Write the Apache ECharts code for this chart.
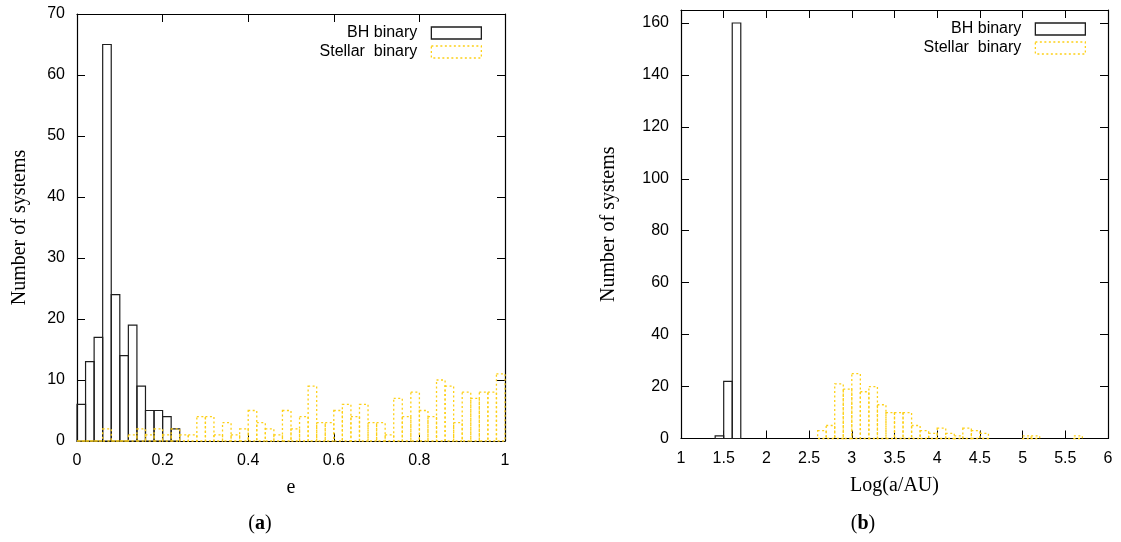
<!DOCTYPE html>
<html>
<head>
<meta charset="utf-8">
<script src="https://cdn.jsdelivr.net/npm/echarts@6/dist/echarts.min.js"></script>
<style>
  html, body { margin: 0; padding: 0; background: #fff; }
  #chart { width: 1121px; height: 542px; }
</style>
</head>
<body>
<div id="chart"></div>
<script>
// (a) eccentricity histogram, bin width 0.02
const eBinWidth = 0.02;
const eBhEdges = [0, 0.02, 0.04, 0.06, 0.08, 0.1, 0.12, 0.14, 0.16, 0.18, 0.2, 0.22];
const eBhCounts = [6, 13, 17, 65, 24, 14, 19, 9, 5, 5, 4, 2];
const eStEdges = [
  0, 0.02, 0.04, 0.06, 0.08, 0.1, 0.12, 0.14, 0.16, 0.18,
  0.2, 0.22, 0.24, 0.26, 0.28, 0.3, 0.32, 0.34, 0.36, 0.38,
  0.4, 0.42, 0.44, 0.46, 0.48, 0.5, 0.52, 0.54, 0.56, 0.58,
  0.6, 0.62, 0.64, 0.66, 0.68, 0.7, 0.72, 0.74, 0.76, 0.78,
  0.8, 0.82, 0.84, 0.86, 0.88, 0.9, 0.92, 0.94, 0.96, 0.98
];
const eStCounts = [
  0, 0, 0, 2, 0, 0, 1, 2, 1, 2,
  1, 2, 1, 1, 4, 4, 1, 3, 1, 2,
  5, 3, 2, 1, 5, 2, 4, 9, 3, 3,
  5, 6, 4, 6, 3, 3, 1, 7, 4, 8,
  5, 4, 10, 9, 3, 8, 7, 8, 8, 11
];

// (b) semi-major axis histogram, bin width 0.1
const aBinWidth = 0.1;
const aBhEdges = [1.4, 1.5, 1.6];
const aBhCounts = [1, 22, 160];
const aStEdges = [2.6, 2.7, 2.8, 2.9, 3.0, 3.1, 3.2, 3.3, 3.4, 3.5, 3.6, 3.7,
  3.8, 3.9, 4.0, 4.1, 4.2, 4.3, 4.4, 4.5, 5.0, 5.1, 5.6];
const aStCounts = [3, 5, 21, 19, 25, 18, 20, 13, 10, 10, 10, 5,
  3, 2, 4, 2, 1, 4, 3, 2, 1, 1, 1];

const BH_NAME = 'BH binary';
const ST_NAME = 'Stellar  binary';
const sans = 'Liberation Sans';
const serif = 'Liberation Serif';
const bhColor = '#1e1e1e';
const stColor = '#fdd017';

function pairs(edges, counts) {
  return edges.map((x, i) => [x, counts[i]]);
}

// draw one histogram box from bin start to bin start + width
function boxes(width, style) {
  return function (params, api) {
    const x0 = api.value(0);
    const h = api.value(1);
    const p0 = api.coord([x0, h]);
    const p1 = api.coord([x0 + width, 0]);
    return {
      type: 'rect',
      shape: { x: p0[0], y: p0[1], width: p1[0] - p0[0], height: p1[1] - p0[1] },
      style: style
    };
  };
}

const bhStyle = { fill: 'none', stroke: bhColor, lineWidth: 1.2 };
const stStyle = { fill: 'none', stroke: stColor, lineWidth: 1.3, lineDash: [2, 2.5] };

function xAx(grid, min, max, step, pos, name) {
  const ax = {
    type: 'value', gridIndex: grid, min: min, max: max, interval: step, position: pos,
    axisLine: { show: true, onZero: false, lineStyle: { color: '#000', width: 1.2 } },
    axisTick: { show: true, inside: true, length: 8, lineStyle: { color: '#000', width: 1 } },
    axisLabel: { show: pos === 'bottom', fontFamily: sans, fontSize: 16, color: '#000', margin: 12 },
    splitLine: { show: false }
  };
  if (name) {
    ax.name = name;
    ax.nameLocation = 'middle';
    ax.nameGap = 37;
    ax.nameTextStyle = { fontFamily: serif, fontSize: 20, color: '#000' };
  }
  return ax;
}

function yAx(grid, max, step, pos, gap) {
  const ax = {
    type: 'value', gridIndex: grid, min: 0, max: max, interval: step, position: pos,
    axisLine: { show: true, onZero: false, lineStyle: { color: '#000', width: 1.2 } },
    axisTick: { show: true, inside: true, length: 8, lineStyle: { color: '#000', width: 1 } },
    axisLabel: { show: pos === 'left', showMaxLabel: max % step === 0, fontFamily: sans, fontSize: 16, color: '#000', margin: 12 },
    splitLine: { show: false }
  };
  if (gap) {
    ax.name = 'Number of systems';
    ax.nameLocation = 'middle';
    ax.nameRotate = 90;
    ax.nameGap = gap;
    ax.nameTextStyle = { fontFamily: serif, fontSize: 20, color: '#000' };
  }
  return ax;
}

function legendItem(name, right, top, dotted) {
  return {
    data: [{
      name: name,
      icon: 'rect',
      itemStyle: {
        color: 'rgba(0,0,0,0)',
        borderColor: dotted ? stColor : bhColor,
        borderWidth: 1.3,
        borderType: dotted ? [2, 2.5] : 'solid'
      }
    }],
    right: right, top: top, padding: 0,
    align: 'right', selectedMode: false,
    itemWidth: 50, itemHeight: 12,
    textStyle: { fontFamily: sans, fontSize: 16, color: '#000', lineHeight: 12, padding: [0, 9, 0, 0] }
  };
}

const chart = echarts.init(document.getElementById('chart'));
chart.setOption({
  backgroundColor: '#fff',
  animation: false,
  grid: [
    { left: 77, right: 616, top: 14, bottom: 101 },
    { left: 681, right: 13, top: 10, bottom: 103.5 }
  ],
  xAxis: [
    xAx(0, 0, 1, 0.2, 'bottom', 'e'),
    xAx(0, 0, 1, 0.2, 'top'),
    xAx(1, 1, 6, 0.5, 'bottom', 'Log(a/AU)'),
    xAx(1, 1, 6, 0.5, 'top')
  ],
  yAxis: [
    yAx(0, 70, 10, 'left', 47),
    yAx(0, 70, 10, 'right'),
    yAx(1, 165, 20, 'left', 62),
    yAx(1, 165, 20, 'right')
  ],
  legend: [
    legendItem(BH_NAME, 639, 25, false),
    legendItem(ST_NAME, 639, 44, true),
    legendItem(BH_NAME, 35, 21, false),
    legendItem(ST_NAME, 35, 40, true)
  ],
  series: [
    {
      type: 'custom', name: BH_NAME, xAxisIndex: 0, yAxisIndex: 0,
      itemStyle: { color: 'rgba(0,0,0,0)', borderColor: bhColor },
      data: pairs(eBhEdges, eBhCounts), encode: { x: 0, y: 1 },
      renderItem: boxes(eBinWidth, bhStyle)
    },
    {
      type: 'custom', name: ST_NAME, xAxisIndex: 0, yAxisIndex: 0,
      itemStyle: { color: 'rgba(0,0,0,0)', borderColor: stColor },
      data: pairs(eStEdges, eStCounts), encode: { x: 0, y: 1 },
      renderItem: boxes(eBinWidth, stStyle)
    },
    {
      type: 'custom', name: BH_NAME, xAxisIndex: 2, yAxisIndex: 2,
      itemStyle: { color: 'rgba(0,0,0,0)', borderColor: bhColor },
      data: pairs(aBhEdges, aBhCounts), encode: { x: 0, y: 1 },
      renderItem: boxes(aBinWidth, bhStyle)
    },
    {
      type: 'custom', name: ST_NAME, xAxisIndex: 2, yAxisIndex: 2,
      itemStyle: { color: 'rgba(0,0,0,0)', borderColor: stColor },
      data: pairs(aStEdges, aStCounts), encode: { x: 0, y: 1 },
      renderItem: boxes(aBinWidth, stStyle)
    }
  ],
  graphic: [
    {
      type: 'text', x: 260, y: 524,
      style: {
        text: '{p|(}{b|a}{p|)}', align: 'center', verticalAlign: 'middle',
        rich: {
          p: { fontFamily: serif, fontSize: 20, fill: '#000' },
          b: { fontFamily: serif, fontSize: 20, fontWeight: 'bold', fill: '#000' }
        }
      }
    },
    {
      type: 'text', x: 863, y: 524,
      style: {
        text: '{p|(}{b|b}{p|)}', align: 'center', verticalAlign: 'middle',
        rich: {
          p: { fontFamily: serif, fontSize: 20, fill: '#000' },
          b: { fontFamily: serif, fontSize: 20, fontWeight: 'bold', fill: '#000' }
        }
      }
    }
  ]
});
</script>
</body>
</html>
